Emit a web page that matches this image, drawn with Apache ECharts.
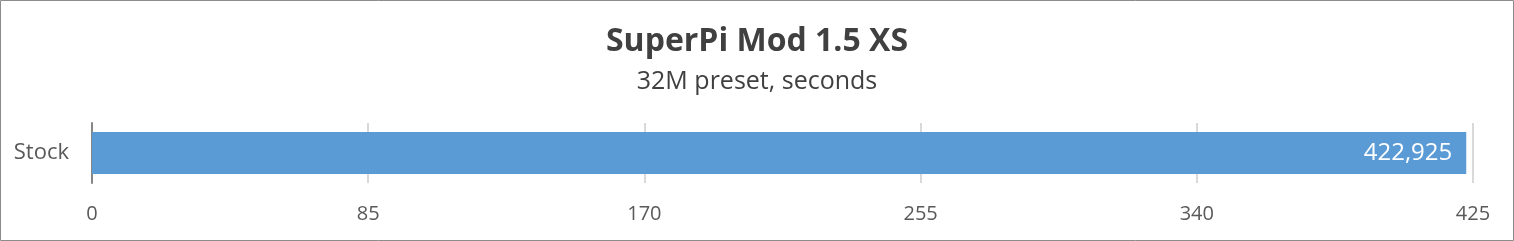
<!DOCTYPE html>
<html>
<head>
<meta charset="utf-8">
<script src="https://cdn.jsdelivr.net/npm/echarts@6/dist/echarts.min.js"></script>
<style>
html,body{margin:0;padding:0;background:#fff;}
#chart{width:1514px;height:241px;}
</style>
</head>
<body>
<div id="chart"></div>
<script>
const categories = ["Stock"];
const values = [422.925];
const valueLabels = ["422,925"];
const tickMin = 0, tickMax = 425, tickStep = 85;
const titleText = "SuperPi Mod 1.5 XS";
const subtitleText = "32M preset, seconds";

const FONT = "'Open Sans', sans-serif";
const chart = echarts.init(document.getElementById('chart'), null, {renderer: 'canvas'});
chart.setOption({
  animation: false,
  backgroundColor: '#ffffff',
  graphic: [{
    type: 'rect', silent: true,
    shape: {x: 0.5, y: 0.5, width: 1513, height: 240},
    style: {fill: 'none', stroke: '#8c8c8c', lineWidth: 1}
  }],
  title: [
    {text: titleText, left: 'center', top: 21,
     textStyle: {fontFamily: FONT, fontWeight: 'bold', fontSize: 32, color: '#404040'}},
    {text: subtitleText, left: 'center', top: 64,
     textStyle: {fontFamily: FONT, fontWeight: 'normal', fontSize: 25, color: '#404040'}}
  ],
  grid: {left: 92, right: 41, top: 123, bottom: 58, containLabel: false},
  xAxis: {
    type: 'value', min: tickMin, max: tickMax, interval: tickStep,
    axisLine: {show: false}, axisTick: {show: false},
    splitLine: {show: true, lineStyle: {color: '#d9d9d9', width: 2}},
    axisLabel: {fontFamily: FONT, fontSize: 20, color: '#595959', margin: 21}
  },
  yAxis: {
    type: 'category', data: categories,
    axisLine: {show: true, lineStyle: {color: '#868686', width: 2}},
    axisTick: {show: false},
    axisLabel: {fontFamily: FONT, fontSize: 22, color: '#595959', margin: 23}
  },
  series: [{
    type: 'bar', data: values, barWidth: 42,
    itemStyle: {color: '#5b9bd5'},
    label: {show: true, position: 'insideRight', distance: 14,
      formatter: p => valueLabels[p.dataIndex],
      fontFamily: FONT, fontSize: 24, color: '#ffffff'}
  }]
});
</script>
</body>
</html>
